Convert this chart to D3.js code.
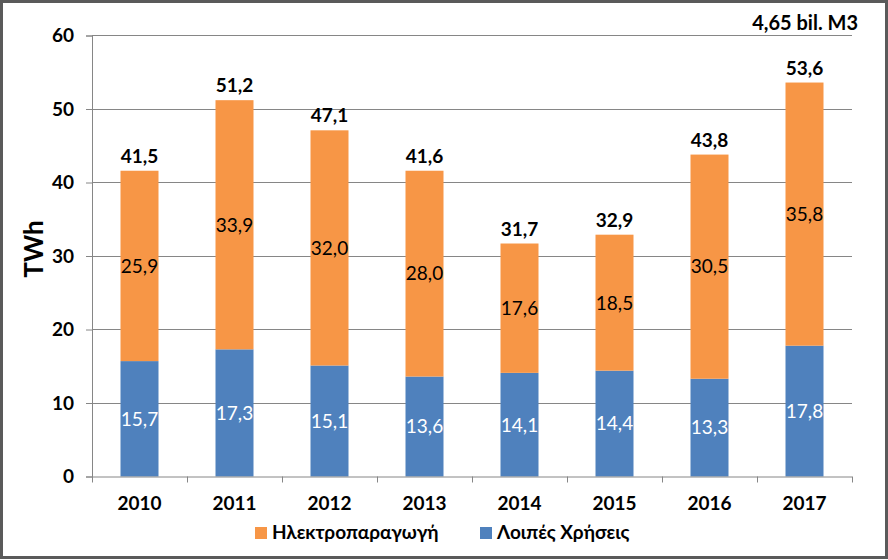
<!DOCTYPE html>
<html><head><meta charset="utf-8">
<script src="https://cdn.jsdelivr.net/npm/d3@7"></script>
<style>body{margin:0;background:#fff}svg{display:block}text{font-family:Lato,"Noto Sans",sans-serif}</style>
</head><body><svg id="c" width="888" height="560"></svg>
<script>
const years = ["2010","2011","2012","2013","2014","2015","2016","2017"];
const otherUses = [15.7,17.3,15.1,13.6,14.1,14.4,13.3,17.8];
const power = [25.9,33.9,32.0,28.0,17.6,18.5,30.5,35.8];
const totals = [41.5,51.2,47.1,41.6,31.7,32.9,43.8,53.6];
const yTicks = [0,10,20,30,40,50,60];
const seriesNames = ["Ηλεκτροπαραγωγή","Λοιπές Χρήσεις"];
const colors = {power:"#F79646", other:"#4F81BD"};
const fmt = v => v.toFixed(1).replace(".", ",");
const FF = 'Lato,"Noto Sans",sans-serif';

const svg = d3.select("#c");
svg.append("rect").attr("x",1.5).attr("y",1.5).attr("width",885).attr("height",556)
  .attr("fill","#fff").attr("stroke","#5a5a5a").attr("stroke-width",3);

const L=92, R=852, T=35.5, B=476.5;
const x = d3.scaleBand().domain(years).range([L,R]).paddingInner(0.6).paddingOuter(0.3);
const y = d3.scaleLinear().domain([0,60]).range([B,T]);

// gridlines
svg.append("g").selectAll("line").data(yTicks.filter(d=>d>0)).join("line")
  .attr("x1",L).attr("x2",R).attr("y1",d=>y(d)).attr("y2",d=>y(d))
  .attr("stroke","#868686").attr("stroke-width",1).attr("shape-rendering","crispEdges");

const data = years.map((yr,i)=>({yr, other:otherUses[i], power:power[i], total:totals[i]}));
const stack = d3.stack().keys(["other","power"])(data);

stack.forEach(s=>{
  svg.append("g").selectAll("rect").data(s).join("rect")
    .attr("x",d=>x(d.data.yr)).attr("width",x.bandwidth())
    .attr("y",d=>y(d[1])).attr("height",d=>y(d[0])-y(d[1]))
    .attr("fill",colors[s.key]);
  svg.append("g").selectAll("text").data(s).join("text")
    .attr("x",d=>x(d.data.yr)+x.bandwidth()/2)
    .attr("y",d=>y((d[0]+d[1])/2)).attr("dy","0.36em")
    .attr("text-anchor","middle").attr("font-size",19)
    .attr("fill",s.key==="other"?"#fff":"#000")
    .text(d=>fmt(d.data[s.key]));
});

// totals
svg.append("g").selectAll("text").data(data).join("text")
  .attr("x",d=>x(d.yr)+x.bandwidth()/2).attr("y",d=>y(d.other+d.power)-8)
  .attr("text-anchor","middle").attr("font-size",19).attr("font-weight","bold")
  .text(d=>fmt(d.total));

// y axis
const ya = svg.append("g").attr("transform",`translate(${L},0)`)
  .call(d3.axisLeft(y).tickValues(yTicks).tickSize(6).tickPadding(12));
ya.select(".domain").attr("stroke","#868686");
ya.selectAll(".tick line").attr("stroke","#868686");
ya.selectAll(".tick text").attr("font-size",19).attr("font-weight","bold").attr("fill","#000")
  .style("font-family",FF);

// x axis
const xa = svg.append("g").attr("transform",`translate(0,${B})`)
  .call(d3.axisBottom(x).tickSize(0));
xa.select(".domain").attr("stroke","#868686").attr("d",`M${L},0.5H${R}`);
xa.selectAll(".tick text").attr("y",33).attr("dy",0).attr("font-size",19).attr("font-weight","bold").attr("fill","#000")
  .style("font-family",FF);
const bounds = years.map(yr=>x(yr)-x.step()*x.paddingInner()/2).concat([R]);
xa.append("g").selectAll("line").data(bounds).join("line")
  .attr("x1",d=>Math.round(d)+0.5).attr("x2",d=>Math.round(d)+0.5).attr("y1",0).attr("y2",6)
  .attr("stroke","#868686");

// y label
svg.append("text").attr("transform",`translate(43,249) rotate(-90)`)
  .attr("text-anchor","middle").attr("font-size",26).attr("font-weight","bold").text("TWh");

// annotation
svg.append("text").attr("x",858).attr("y",30).attr("text-anchor","end")
  .attr("font-size",20).attr("font-weight","bold").text("4,65 bil. M3");

// legend
const leg = [{name:seriesNames[0],c:colors.power,x:255},{name:seriesNames[1],c:colors.other,x:480}];
const lg = svg.append("g").selectAll("g").data(leg).join("g").attr("transform",d=>`translate(${d.x},527)`);
lg.append("rect").attr("width",12).attr("height",12).attr("fill",d=>d.c);
lg.append("text").attr("x",17).attr("y",12).attr("font-size",19).attr("font-weight","bold").text(d=>d.name);
</script></body></html>
